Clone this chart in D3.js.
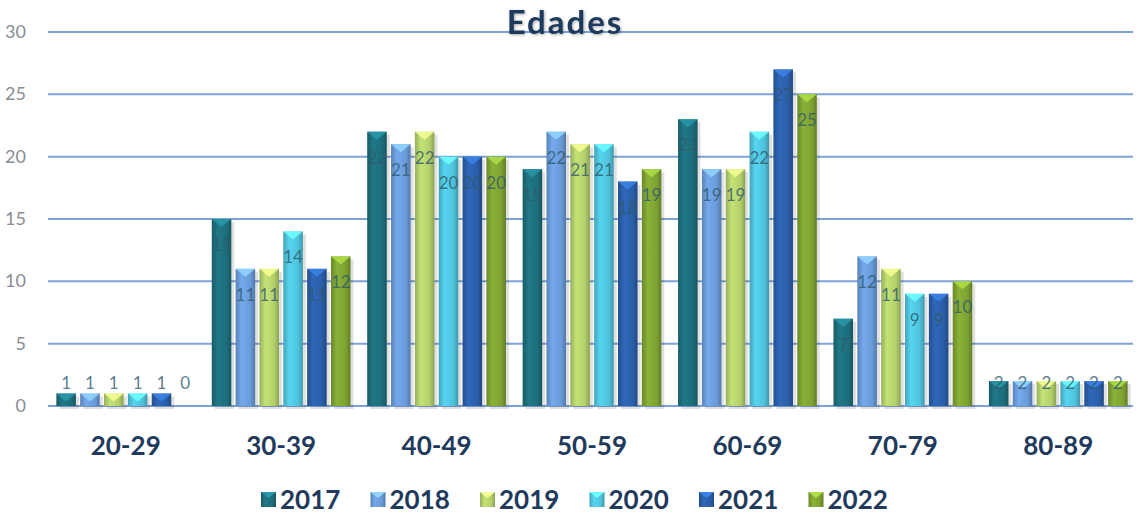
<!DOCTYPE html>
<html>
<head>
<meta charset="utf-8">
<script src="https://cdn.jsdelivr.net/npm/d3@7"></script>
<style>
  body { margin: 0; background: #fff; }
  svg { display: block; }
</style>
</head>
<body>
<svg></svg>
<script>
// data
const categories = ['20-29', '30-39', '40-49', '50-59', '60-69', '70-79', '80-89'];
const years = ['2017', '2018', '2019', '2020', '2021', '2022'];
const v2017 = [1, 15, 22, 19, 23, 7, 2];
const v2018 = [1, 11, 21, 22, 19, 12, 2];
const v2019 = [1, 11, 22, 21, 19, 11, 2];
const v2020 = [1, 14, 20, 21, 22, 9, 2];
const v2021 = [1, 11, 20, 18, 27, 9, 2];
const v2022 = [0, 12, 20, 19, 25, 10, 2];
const yTicks = [0, 5, 10, 15, 20, 25, 30];
const colors = ['#1d6e7b', '#6a9bd9', '#b3d06b', '#4fc3dc', '#2b5ea9', '#7ea232'];

const seriesValues = [v2017, v2018, v2019, v2020, v2021, v2022];

// setup
const width = 1138;
const height = 519;
const svg = d3.select('svg').attr('width', width).attr('height', height);
const defs = svg.append('defs');

// scales
const x = d3.scaleBand().domain(categories).range([48, 1136]);
const xInner = d3.scaleBand().domain(years).range([0, x.bandwidth()])
  .paddingInner(0.18).paddingOuter(0.35);
const y = d3.scaleLinear().domain([0, 30]).range([406, 32]);

// gradients, one per series
years.forEach(function (yr, i) {
  const c = d3.color(colors[i]);
  const g = defs.append('linearGradient').attr('id', 'g' + yr)
    .attr('x1', 0).attr('x2', 1).attr('y1', 0).attr('y2', 0);
  g.append('stop').attr('offset', 0).attr('stop-color', c.darker(0.5));
  g.append('stop').attr('offset', 0.3).attr('stop-color', c.brighter(0.25));
  g.append('stop').attr('offset', 0.75).attr('stop-color', c);
  g.append('stop').attr('offset', 1).attr('stop-color', c.darker(0.7));
});

// soft glow for the title
const glow = defs.append('filter').attr('id', 'glow')
  .attr('x', '-10%').attr('y', '-30%').attr('width', '120%').attr('height', '160%');
glow.append('feGaussianBlur').attr('in', 'SourceAlpha').attr('stdDeviation', 1.5).attr('result', 'b');
glow.append('feOffset').attr('in', 'b').attr('dx', 1).attr('dy', 1).attr('result', 'o');
glow.append('feComponentTransfer').attr('in', 'o').attr('result', 's')
  .append('feFuncA').attr('type', 'linear').attr('slope', 0.35);
const merge = glow.append('feMerge');
merge.append('feMergeNode').attr('in', 's');
merge.append('feMergeNode').attr('in', 'SourceGraphic');

// grid
svg.append('g')
  .selectAll('line')
  .data(yTicks)
  .enter()
  .append('line')
  .attr('x1', 48)
  .attr('x2', 1133)
  .attr('y1', d => y(d))
  .attr('y2', d => y(d))
  .attr('stroke', '#7fa2d6')
  .attr('stroke-width', 2);

// y tick labels
svg.append('g')
  .selectAll('text')
  .data(yTicks)
  .enter()
  .append('text')
  .attr('x', 26)
  .attr('y', d => y(d) + 6)
  .attr('text-anchor', 'end')
  .attr('font-family', 'Lato, sans-serif')
  .attr('font-size', 18)
  .attr('fill', '#8a8d93')
  .text(d => d);

// title
svg.append('text')
  .attr('x', 565)
  .attr('y', 34)
  .attr('text-anchor', 'middle')
  .attr('font-family', 'Lato, sans-serif')
  .attr('font-weight', 'bold')
  .attr('font-size', 33)
  .attr('letter-spacing', 2)
  .attr('fill', '#1f3a5c')
  .attr('filter', 'url(#glow)')
  .text('Edades');

// bars
const rows = [];
categories.forEach(function (cat, ci) {
  years.forEach(function (yr, si) {
    rows.push({ cat: cat, year: yr, si: si, value: seriesValues[si][ci] });
  });
});

const groups = svg.append('g')
  .selectAll('g')
  .data(rows)
  .enter()
  .append('g')
  .attr('transform', d => 'translate(' + (x(d.cat) + xInner(d.year)) + ',0)');

const bw = xInner.bandwidth();

groups.filter(d => d.value > 0)
  .append('rect')
  .attr('x', 3)
  .attr('y', d => y(d.value) + 3)
  .attr('width', bw)
  .attr('height', d => y(0) - y(d.value))
  .attr('fill', '#000')
  .attr('opacity', 0.12);

groups.filter(d => d.value > 0)
  .append('rect')
  .attr('x', 0)
  .attr('y', d => y(d.value))
  .attr('width', bw)
  .attr('height', d => y(0) - y(d.value))
  .attr('fill', d => 'url(#g' + d.year + ')');

groups.filter(d => d.value > 0)
  .append('path')
  .attr('d', function (d) {
    const t = y(d.value);
    return 'M0,' + t + 'L' + bw + ',' + t + 'L' + (bw / 2) + ',' + (t + 8) + 'Z';
  })
  .attr('fill', d => d3.color(colors[d.si]).brighter(0.9))
  .attr('opacity', 0.85);

// value labels
groups.append('text')
  .attr('x', bw / 2)
  .attr('y', d => Math.min(y(d.value) + 32, y(0) - 17))
  .attr('text-anchor', 'middle')
  .attr('font-family', 'Lato, sans-serif')
  .attr('font-size', 17)
  .attr('fill', '#2f5a6c')
  .attr('fill-opacity', 0.8)
  .text(d => d.value);

// category labels
svg.append('g')
  .selectAll('text')
  .data(categories)
  .enter()
  .append('text')
  .attr('x', d => x(d) + x.bandwidth() / 2)
  .attr('y', 455)
  .attr('text-anchor', 'middle')
  .attr('font-family', 'Lato, sans-serif')
  .attr('font-weight', 'bold')
  .attr('font-size', 26)
  .attr('fill', '#1f3a5c')
  .text(d => d);

// legend
const legend = svg.append('g')
  .selectAll('g')
  .data(years)
  .enter()
  .append('g')
  .attr('transform', (d, i) => 'translate(' + (261 + i * 109.5) + ',492)');

legend.append('rect')
  .attr('width', 15)
  .attr('height', 15)
  .attr('fill', d => 'url(#g' + d + ')');

legend.append('path')
  .attr('d', 'M0,0L15,0L7.5,6Z')
  .attr('fill', (d, i) => d3.color(colors[i]).brighter(0.9));

legend.append('text')
  .attr('x', 19)
  .attr('y', 17)
  .attr('font-family', 'Lato, sans-serif')
  .attr('font-weight', 'bold')
  .attr('font-size', 26)
  .attr('fill', '#1f3a5c')
  .text(d => d);
</script>
</body>
</html>
